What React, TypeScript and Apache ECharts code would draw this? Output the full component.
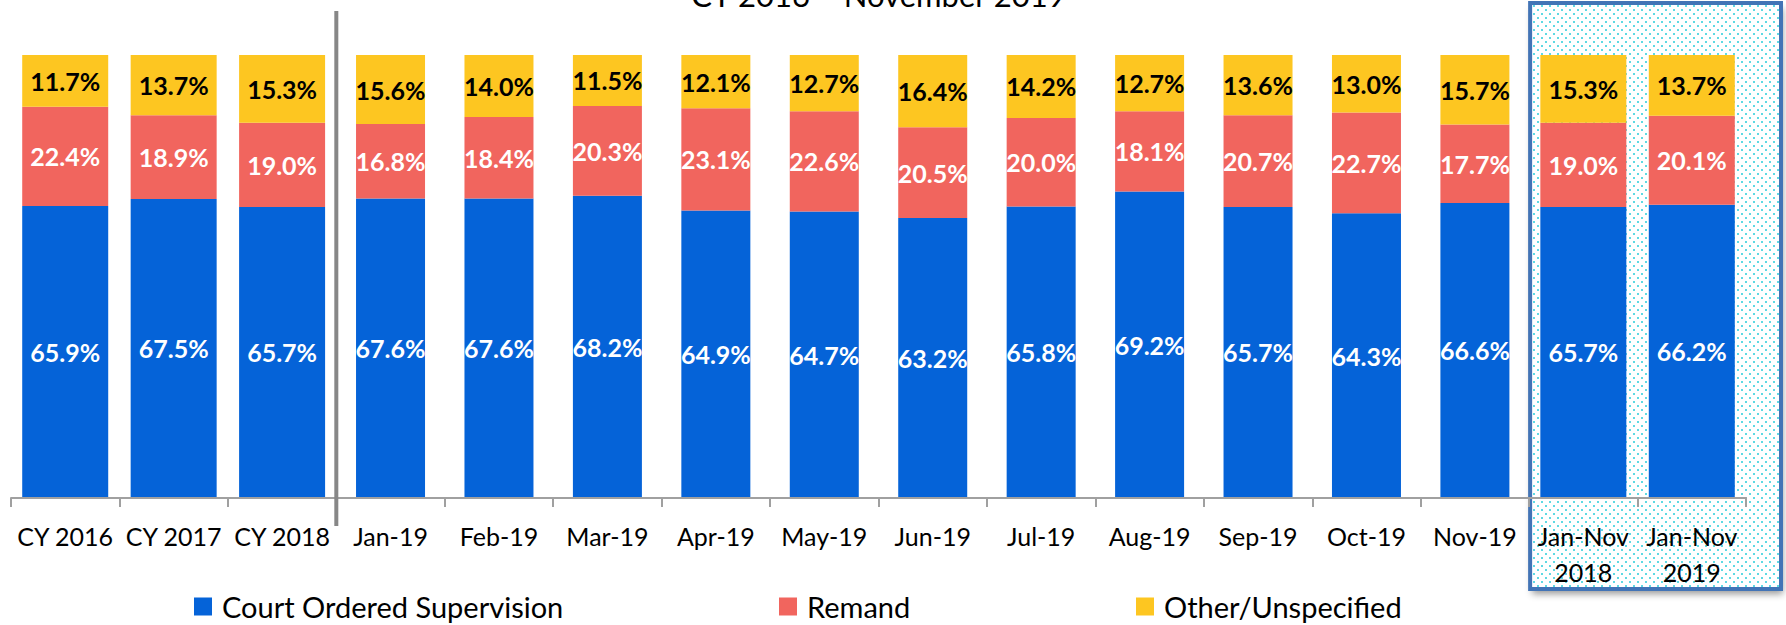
import React, { useEffect, useRef } from 'react';
import * as echarts from 'echarts';

const titleText = 'CY 2016 \u2013 November 2019';
const categories = [
  'CY 2016', 'CY 2017', 'CY 2018', 'Jan-19', 'Feb-19', 'Mar-19', 'Apr-19', 'May-19',
  'Jun-19', 'Jul-19', 'Aug-19', 'Sep-19', 'Oct-19', 'Nov-19', 'Jan-Nov\n2018', 'Jan-Nov\n2019',
];
const summaryCategories = ['CY 2016', 'CY 2017', 'CY 2018', 'Jan-Nov\n2018', 'Jan-Nov\n2019'];
const courtOrdered = [65.9, 67.5, 65.7, 67.6, 67.6, 68.2, 64.9, 64.7, 63.2, 65.8, 69.2, 65.7, 64.3, 66.6, 65.7, 66.2];
const remand = [22.4, 18.9, 19.0, 16.8, 18.4, 20.3, 23.1, 22.6, 20.5, 20.0, 18.1, 20.7, 22.7, 17.7, 19.0, 20.1];
const other = [11.7, 13.7, 15.3, 15.6, 14.0, 11.5, 12.1, 12.7, 16.4, 14.2, 12.7, 13.6, 13.0, 15.7, 15.3, 13.7];
const seriesNames = ['Court Ordered Supervision', 'Remand', 'Other/Unspecified'];

const COLORS = ['#0563D8', '#F1655E', '#FDC621'];
const LABEL_COLORS = ['#FFFFFF', '#FFFFFF', '#000000'];
const FONT = 'Lato';

function makeDotPattern(): any {
  const c = document.createElement('canvas');
  c.width = 8;
  c.height = 8;
  const ctx = c.getContext('2d')!;
  ctx.fillStyle = '#FFFFFF';
  ctx.fillRect(0, 0, 8, 8);
  ctx.fillStyle = '#5FD9E3';
  ctx.fillRect(1, 1, 2, 2);
  ctx.fillRect(5, 5, 2, 2);
  return { image: c.toDataURL(), repeat: 'repeat', imageWidth: 8, imageHeight: 8 };
}

export default function App() {
  const ref = useRef<HTMLDivElement>(null);

  useEffect(() => {
    if (!ref.current) return;
    const chart = echarts.init(ref.current, null, { renderer: 'svg' });
    const valuesList = [courtOrdered, remand, other];

    const series: any[] = [];
    [true, false].forEach((wide) => {
      seriesNames.forEach((name, k) => {
        series.push({
          type: 'bar',
          name,
          xAxisIndex: wide ? 0 : 1,
          yAxisIndex: 0,
          stack: wide ? 'wide' : 'narrow',
          barWidth: wide ? 86 : 69,
          data: valuesList[k].map((v, i) =>
            summaryCategories.includes(categories[i]) === wide ? v : null
          ),
          itemStyle: { color: COLORS[k] },
          label: {
            show: true,
            position: 'inside',
            color: LABEL_COLORS[k],
            fontFamily: FONT,
            fontWeight: 'bold',
            fontSize: 25,
            textBorderWidth: 0,
            formatter: (p: any) => (p.value == null ? '' : Number(p.value).toFixed(1) + '%'),
          },
          emphasis: { disabled: true },
        });
      });
    });

    const legendLefts = [194, 779, 1136];
    const option: any = {
      animation: false,
      backgroundColor: '#FFFFFF',
      grid: { left: 11, right: 40, top: 55, bottom: 127, containLabel: false, outerBoundsMode: 'none' },
      xAxis: [
        {
          type: 'category',
          data: categories,
          z: 3,
          axisLine: { show: true, lineStyle: { color: '#A0A0A0', width: 2 } },
          axisTick: { show: true, alignWithLabel: false, length: 9, lineStyle: { color: '#A0A0A0', width: 2 } },
          axisLabel: {
            interval: 0,
            fontFamily: FONT,
            fontSize: 25,
            color: '#000000',
            margin: 20,
            lineHeight: 36,
          },
        },
        { type: 'category', data: categories, show: false, position: 'bottom' },
      ],
      yAxis: { type: 'value', min: 0, max: 100, show: false },
      legend: seriesNames.map((n, i) => ({
        data: [n],
        left: legendLefts[i],
        top: 592,
        padding: 0,
        icon: 'rect',
        itemWidth: 18,
        itemHeight: 18,
        selectedMode: false,
        textStyle: { fontFamily: FONT, fontSize: 29, color: '#000000', padding: [0, 0, 0, 5] },
      })),
      series,
    };
    chart.setOption(option);

    const px = (i: number) => chart.convertToPixel({ xAxisIndex: 0 }, i) as number;
    const band = px(1) - px(0);
    const sepX = px(categories.indexOf('CY 2018')) + band / 2;
    const boxL = px(categories.indexOf('Jan-Nov\n2018')) - band / 2 + 1;
    const boxR = px(categories.indexOf('Jan-Nov\n2019')) + band / 2 + 35;
    const midX = (px(0) + px(categories.length - 1)) / 2;
    const boxShape = { x: boxL, y: 3, width: boxR - boxL, height: 586 };

    chart.setOption({
      graphic: [
        {
          type: 'rect',
          z: -12,
          shape: { ...boxShape },
          style: {
            fill: '#FFFFFF',
            shadowColor: 'rgba(0,0,0,0.4)',
            shadowBlur: 7,
            shadowOffsetX: 2,
            shadowOffsetY: 5,
          },
          silent: true,
        },
        {
          type: 'rect',
          z: -10,
          shape: { ...boxShape },
          style: {
            fill: makeDotPattern(),
            stroke: '#4274B6',
            lineWidth: 4,
          },
          silent: true,
        },
        {
          type: 'line',
          z: 5,
          shape: { x1: sepX, y1: 11, x2: sepX, y2: 526 },
          style: { stroke: '#878787', lineWidth: 4 },
          silent: true,
        },
        {
          type: 'text',
          z: 5,
          x: midX,
          y: -5,
          style: {
            text: titleText,
            fill: '#000000',
            font: `31px ${FONT}`,
            align: 'center',
            verticalAlign: 'middle',
          },
          silent: true,
        },
      ],
    });

    return () => chart.dispose();
  }, []);

  return (
    <div
      ref={ref}
      style={{ position: 'absolute', left: 0, top: 0, width: 1786, height: 625, background: '#fff' }}
    />
  );
}
